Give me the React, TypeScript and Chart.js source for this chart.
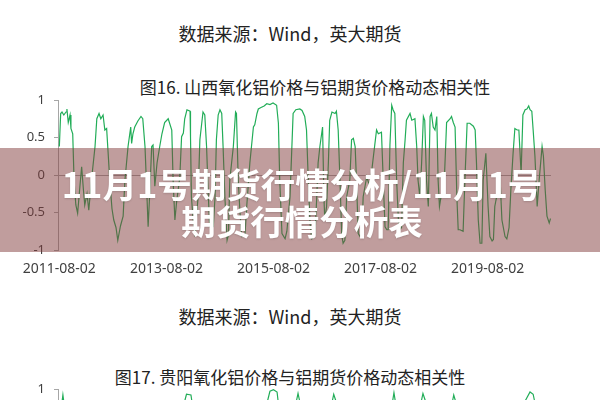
import React, { useEffect, useRef } from "react";
import { Chart, registerables } from "chart.js";

Chart.register(...registerables);

// months since 2011-08-02
const tickMonths = [0, 24, 48, 72, 96];
const tickLabels = ["2011-08-02", "2013-08-02", "2015-08-02", "2017-08-02", "2019-08-02"];
const yTickLabels: Record<string, string> = { "1": "1", "0.5": "0.5", "0": "0", "-0.5": "-0.5", "-1": "-1" };

// 图16 山西氧化铝价格与铝期货价格动态相关性
const shanxiMonths = [
  0, 0.3, 0.6, 1.0, 1.5, 1.7, 2.0, 2.4, 2.6, 3.0, 3.3, 3.7, 4.1, 4.6, 5.0, 5.4, 5.7, 6.2, 6.6, 7.2,
  8.0, 8.4, 8.9, 9.3, 9.8, 10.2, 10.6, 10.9, 11.3, 11.8, 12.2, 12.7, 13.1, 13.7, 14.3, 14.7, 15.4, 16.0, 16.2, 16.5,
  16.9, 17.6, 18.3, 18.7, 19.2, 19.5, 19.9, 20.3, 20.7, 21.0, 21.4, 21.9, 22.5, 23.0, 23.6, 24.4, 25.2, 25.5, 25.9, 26.3,
  27.0, 27.4, 27.8, 28.1, 28.6, 29.3, 29.4, 29.6, 30.0, 30.4, 31.1, 31.5, 32.2, 32.6, 33.0, 33.4, 33.7, 34.5, 34.9, 35.2,
  35.6, 36.0, 36.4, 36.7, 37.1, 37.6, 37.9, 38.2, 39.0, 39.5, 39.7, 40.1, 40.5, 40.9, 41.6, 42.0, 42.7, 43.5, 43.8, 44.3,
  44.6, 45.2, 45.9, 46.5, 47.2, 47.9, 48.7, 49.1, 49.4, 49.9, 50.6, 51.0, 51.7, 52.4, 53.0, 53.9, 54.4, 55.0, 55.4, 55.8,
  56.2, 56.6, 57.3, 57.7, 58.0, 58.4, 59.0, 59.3, 59.5, 59.9, 60.3, 60.6, 61.1, 61.8, 62.1, 62.5, 62.9, 63.3, 63.6, 64.0,
  64.4, 65.1, 65.5, 65.9, 66.3, 66.6, 67.0, 67.4, 67.8, 68.1, 68.9, 69.6, 70.3, 71.1, 71.5, 72.2, 72.6, 73.0, 73.4, 73.7,
  74.1, 74.5, 74.8, 75.2, 75.6, 76.0, 76.3, 76.7, 77.1, 77.5, 77.8, 78.6, 79.0, 79.7, 80.1, 80.4, 80.8, 81.2, 81.6, 81.9,
  82.3, 82.7, 83.1, 83.4, 83.8, 84.2, 84.6, 84.9, 85.2, 85.8, 86.2, 86.8, 87.6, 87.9, 88.3, 88.7, 89.1, 89.4, 89.8, 90.5,
  90.9, 91.4, 92.0, 92.8, 93.2, 93.5, 93.9, 94.3, 94.7, 95.0, 95.6, 96.1, 96.5, 97.0, 97.3, 97.6, 98.3, 98.8, 99.2, 99.9,
  100.3, 100.8, 101.2, 101.7, 102.1, 102.6, 103.0, 103.5, 103.9, 104.4, 104.8, 105.2, 105.5, 105.9, 106.2, 106.6, 107.1, 107.5, 108.2, 108.5,
  108.9, 109.3, 109.8, 110.1,
];
const shanxiValues = [
  0.38, 0.82, 0.84, 0.8, 0.84, 0.88, 0.7, 0.8, 0.62, 0.55, -0.07, -0.4, -0.51, -0.16, 0.11, -0.2, -0.4, -0.25, -0.47, -0.07,
  0.38, 0.75, 0.82, 0.75, 0.8, 0.6, 0.62, 0.33, -0.07, -0.45, -0.6, -0.7, -0.87, -0.68, -0.55, -0.07, 0.38, 0.64, 0.42, 0.55,
  0.64, 0.72, 0.78, 0.75, 0.38, -0.07, -0.69, -0.2, 0.38, 0.4, -0.15, 0.16, 0.38, 0.55, 0.7, 0.75, 0.6, -0.07, -0.6, -0.35,
  -0.03, 0.51, 0.56, 0.75, 0.87, 0.85, 0.51, -0.29, -0.6, -0.82, -0.29, 0.47, 0.84, 0.8, 0.38, -0.29, -0.69, -0.69, -0.29, 0.47,
  0.8, 0.87, 0.82, 0.38, -0.29, -0.87, -0.8, -0.07, 0.38, 0.84, 0.82, -0.07, -0.51, -0.82, -0.8, -0.42, 0.16, 0.64, 0.67, 0.82,
  0.88, 0.9, 0.92, 0.95, 0.94, 0.96, 0.93, 0.69, -0.07, -0.78, -0.85, -0.75, -0.29, 0.82, 0.87, 0.88, 0.86, 0.78, 0.6, -0.07,
  -0.65, -0.85, -0.8, -0.29, 0.16, 0.38, 0.64, -0.29, -0.6, -0.42, 0.16, 0.73, 0.84, 0.82, 0.85, 0.6, -0.07, -0.8, -0.91, -0.87,
  -0.29, -0.07, 0.47, 0.49, 0.38, -0.07, -0.78, -0.82, -0.78, -0.29, -0.02, -0.16, 0.2, 0.6, 0.55, 0.57, -0.07, -0.69, -0.73, -0.73,
  0.4, 0.93, 0.87, 0.82, -0.07, -0.6, -0.73, -0.7, 0.16, 0.47, 0.73, 0.82, 0.73, 0.75, 0.38, -0.07, -0.29, 0.16, 0.78, 0.73,
  -0.07, -0.42, 0.78, 0.82, 0.64, 0.6, 0.78, -0.07, -0.42, -0.2, -0.2, 0.7, 0.75, 0.78, 0.7, 0.64, -0.29, -0.73, -0.73, -0.75,
  -0.07, 0.69, 0.69, 0.65, 0.6, 0.16, -0.6, -0.91, -0.91, -0.07, 0.29, -0.42, -0.82, -0.88, -0.86, -0.42, -0.2, -0.07, -0.6, -0.82,
  -0.85, -0.7, -0.2, 0.29, 0.62, 0.6, 0.6, 0.02, 0.8, 0.87, 0.88, 0.92, 0.87, 0.85, 0.6, 0.25, -0.42, -0.1, 0.38, 0.25,
  -0.2, -0.55, -0.64, -0.58,
];

// 图17 贵阳氧化铝价格与铝期货价格动态相关性 (only the top is visible)
const guiyangMonths = [
  0, 0.8, 1.5, 4, 8, 12, 16, 20, 24, 27.5, 28.5, 29.5, 30.3, 33, 37, 40, 44, 46.5, 47.2, 48,
  48.8, 49.3, 51, 53, 53.5, 54, 56, 60, 61.5, 62.2, 65, 70, 74.6, 75.0, 75.4, 78, 81, 81.5, 82, 85,
  88, 88.4, 89, 92, 97, 100, 104.5, 105.5, 106.2, 107, 110,
];
const guiyangValues = [
  0.55, 0.92, 0.6, -0.2, 0.3, -0.5, 0.4, -0.3, 0.5, 0.7, 0.93, 0.92, 0.6, -0.4, 0.5, -0.6, 0.6, 0.8, 0.97, 0.99,
  0.96, 0.7, -0.5, 0.8, 0.94, 0.8, -0.6, 0.5, 0.93, 0.8, -0.4, 0.6, 0.8, 0.95, 0.8, -0.5, 0.8, 0.94, 0.85, -0.6,
  0.8, 0.92, 0.8, -0.7, 0.3, -0.6, 0.85, 0.96, 0.93, 0.7, -0.5,
];

const LINE_COLOR = "#22ad58";
const AXIS_COLOR = "#a6a6a6";
const TEXT_COLOR = "#404040";

function makeConfig(months: number[], values: number[]): any {
  return {
    type: "line",
    data: {
      datasets: [
        {
          data: months.map((m, i) => ({ x: m, y: values[i] })),
          borderColor: LINE_COLOR,
          borderWidth: 1.2,
          pointRadius: 0,
          tension: 0,
          fill: false,
        },
      ],
    },
    options: {
      animation: false,
      responsive: false,
      maintainAspectRatio: false,
      layout: { padding: { top: 10, right: 49, bottom: 0, left: 0 } },
      plugins: { legend: { display: false }, tooltip: { enabled: false }, title: { display: false } },
      scales: {
        x: {
          type: "linear",
          min: -0.3,
          max: 110.2,
          grid: { display: false, drawTicks: false },
          border: { display: false },
          afterBuildTicks: (s: any) => {
            s.ticks = tickMonths.map((v) => ({ value: v }));
          },
          afterFit: (s: any) => {
            s.height = 40;
            s.paddingLeft = 0;
            s.paddingRight = 0;
          },
          ticks: {
            autoSkip: false,
            maxRotation: 0,
            padding: 11,
            color: TEXT_COLOR,
            font: { family: "'Noto Sans', sans-serif", size: 14 },
            callback: (v: number) => {
              const i = tickMonths.indexOf(v);
              return i >= 0 ? tickLabels[i] : "";
            },
          },
        },
        y: {
          min: -1,
          max: 1,
          afterFit: (s: any) => {
            s.width = 58;
            s.paddingTop = 0;
            s.paddingBottom = 0;
          },
          ticks: {
            stepSize: 0.5,
            padding: 9,
            color: TEXT_COLOR,
            font: { family: "'Noto Sans', sans-serif", size: 13 },
            callback: (v: number) => yTickLabels[String(v)] ?? "",
          },
          grid: {
            drawTicks: true,
            tickLength: 4,
            tickColor: AXIS_COLOR,
            color: (ctx: any) => (ctx.tick && ctx.tick.value === 0 ? AXIS_COLOR : "rgba(0,0,0,0)"),
          },
          border: { display: true, color: AXIS_COLOR },
        },
      },
    },
  };
}

function LineChart({ months, values, top }: { months: number[]; values: number[]; top: number }) {
  const ref = useRef<HTMLCanvasElement | null>(null);
  useEffect(() => {
    if (!ref.current) return;
    const chart = new Chart(ref.current, makeConfig(months, values));
    return () => chart.destroy();
  }, [months, values]);
  return (
    <canvas
      ref={ref}
      width={600}
      height={200}
      style={{ position: "absolute", left: 0, top, width: 600, height: 200 }}
    />
  );
}

const cjk = "'Noto Sans CJK SC', 'Noto Sans', sans-serif";

export default function App() {
  return (
    <div
      style={{
        position: "fixed",
        left: 0,
        top: 0,
        width: 600,
        height: 400,
        overflow: "hidden",
        background: "#ffffff",
      }}
    >
      <div style={{ position: "absolute", left: 0, width: 580, top: 23, lineHeight: "20px", fontSize: 18, fontFamily: cjk, color: "#222", textAlign: "center" }}>
        数据来源：Wind，英大期货
      </div>
      <div style={{ position: "absolute", left: 30, width: 570, top: 77, lineHeight: "20px", fontSize: 17, fontFamily: cjk, color: "#222", textAlign: "center" }}>
        图16. 山西氧化铝价格与铝期货价格动态相关性
      </div>
      <LineChart months={shanxiMonths} values={shanxiValues} top={90} />
      <div style={{ position: "absolute", left: 0, width: 580, top: 306, lineHeight: "20px", fontSize: 18, fontFamily: cjk, color: "#222", textAlign: "center" }}>
        数据来源：Wind，英大期货
      </div>
      <div style={{ position: "absolute", left: 0, width: 580, top: 367, lineHeight: "20px", fontSize: 17, fontFamily: cjk, color: "#222", textAlign: "center" }}>
        图17. 贵阳氧化铝价格与铝期货价格动态相关性
      </div>
      <LineChart months={guiyangMonths} values={guiyangValues} top={379} />
      <div style={{ position: "absolute", left: 0, top: 148, width: 600, height: 104, background: "rgba(130,60,60,0.5)" }} />
      <div
        style={{
          position: "absolute",
          left: 0,
          width: 604,
          top: 165,
          lineHeight: "37px",
          fontSize: 34.5,
          fontWeight: 700,
          fontFamily: cjk,
          color: "#ffffff",
          textAlign: "center",
          textShadow: "0 1px 2px rgba(0,0,0,0.15)",
        }}
      >
        11月1号期货行情分析/11月1号
        <br />
        期货行情分析表
      </div>
    </div>
  );
}
